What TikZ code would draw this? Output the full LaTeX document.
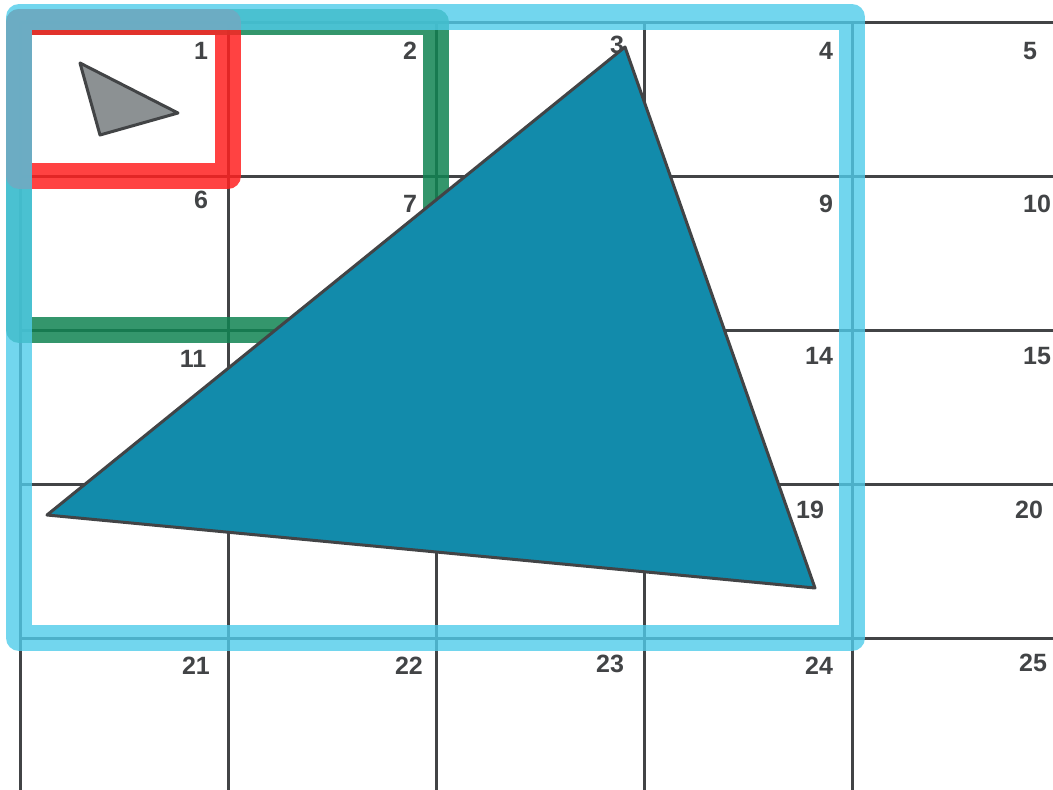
\documentclass[tikz,border=0pt]{standalone}
\usepackage{fontspec}
\setmainfont{Liberation Sans}
\usepackage{tikz}

\definecolor{gridgray}{RGB}{66,68,70}
\definecolor{boxred}{RGB}{255,33,33}
\definecolor{boxgreen}{RGB}{16,132,82}
\definecolor{boxblue}{RGB}{79,204,234}
\definecolor{bigfill}{RGB}{18,139,171}
\definecolor{smallfill}{RGB}{140,145,147}

\begin{document}
\begin{tikzpicture}[x=1pt,y=-1pt,
    gridline/.style={draw=gridgray,line width=3pt},
    bbox/.style={line width=26pt,line join=round},
    num/.style={text=gridgray,font=\fontsize{25}{25}\selectfont\bfseries,inner sep=0pt},
    tri/.style={draw=gridgray,line width=3pt,line join=round}]
    \useasboundingbox (0,0) rectangle (1053,790);

    % Grid
    \foreach \gx in {20,228,436,644,852}
        \draw[gridline] (\gx,22) -- (\gx,800);
    \foreach \gy in {22,176,330,484,638}
        \draw[gridline] (20,\gy) -- (1060,\gy);

    % Boxes
    \draw[bbox,draw=boxgreen,draw opacity=0.85] (19,22) rectangle (436,330);
    \draw[bbox,draw=boxred,draw opacity=0.85] (19,22) rectangle (228,176);
    \draw[bbox,draw=boxblue,draw opacity=0.8] (19,17) rectangle (852,638);

    % Cell numbers
    \foreach \n/\px/\py in {1/201/51, 2/410/51, 3/617/45, 4/826/51, 5/1030/51,
                            6/201/200, 7/410/204, 9/826/204, 10/1037/204,
                            11/193/359, 14/819/356, 15/1037/356,
                            19/810/510, 20/1029/510,
                            21/196/666, 22/409/666, 23/610/664, 24/819/666, 25/1033/663}
        \node[num] (n\n) at (\px,\py) {\n};

    % Triangles
    \filldraw[tri,fill=smallfill] (80,63) -- (178,113) -- (100,135) -- cycle;
    \filldraw[tri,fill=bigfill] (47,515) -- (625,47) -- (815,588) -- cycle;
\end{tikzpicture}
\end{document}
